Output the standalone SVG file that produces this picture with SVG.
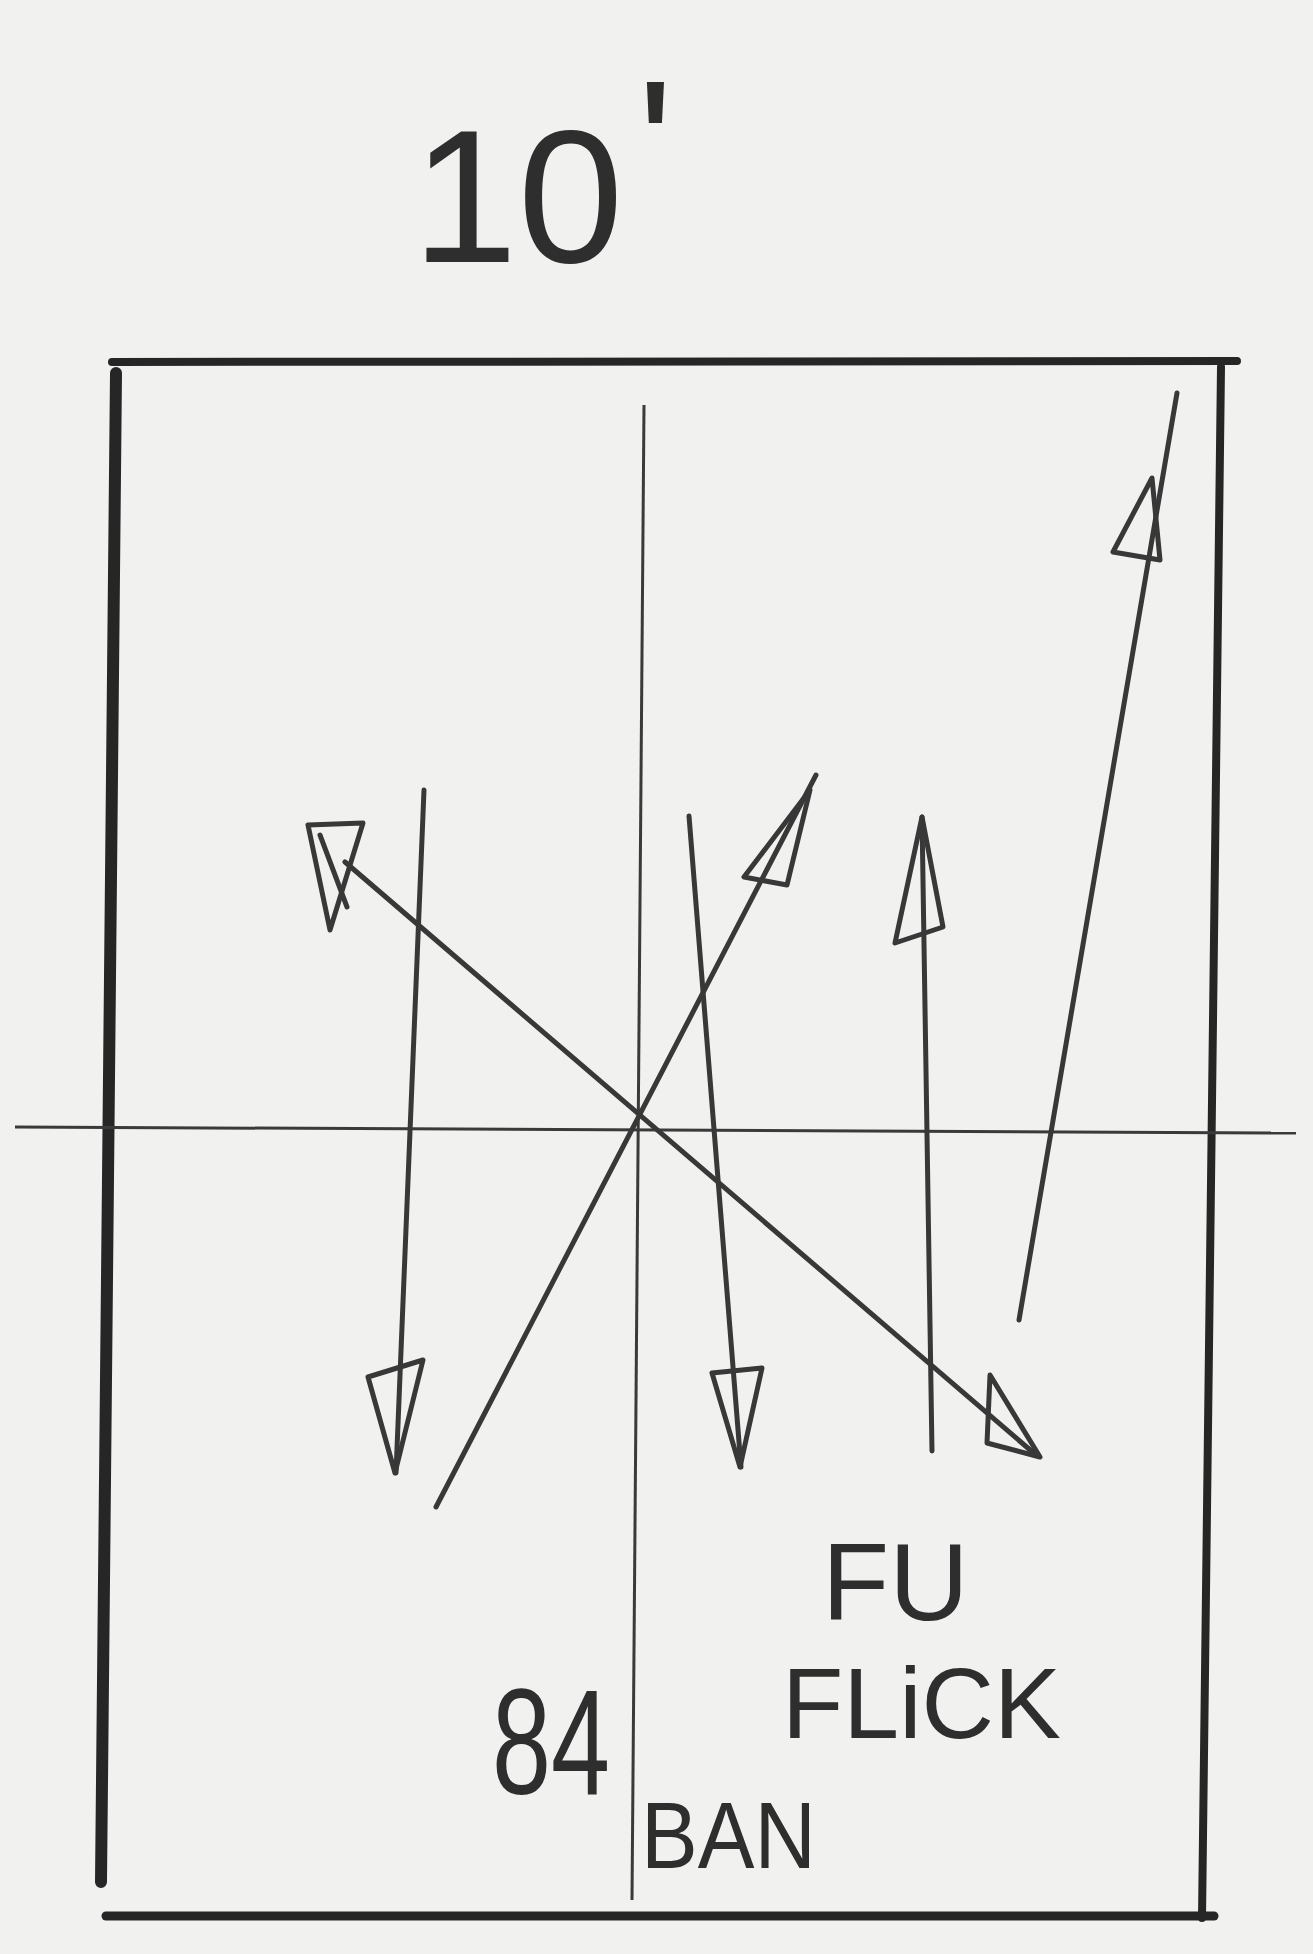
<svg xmlns="http://www.w3.org/2000/svg" width="1313" height="1954" viewBox="0 0 1313 1954">
<style>
.frame{stroke:#262626;fill:none;stroke-linecap:round}
.axis{stroke:#3a3a3a;stroke-width:3;fill:none}
.arr{stroke:#383838;stroke-width:5;fill:none;stroke-linecap:round;stroke-linejoin:round}
.hand{font-family:"Liberation Sans","DejaVu Sans",sans-serif;fill:#2e2e2e}
</style>
<rect x="0" y="0" width="1313" height="1954" fill="#f1f1ef"/>
<g id="title">
<text class="hand" x="412" y="262" font-size="190">10<tspan dx="14" dy="-50">'</tspan></text>
</g>
<g id="field">
<line class="frame" stroke-width="8" x1="112" y1="362" x2="1237" y2="361"/>
<line class="frame" stroke-width="12" x1="116" y1="373" x2="101" y2="1882"/>
<line class="frame" stroke-width="8" x1="1221" y1="367" x2="1202" y2="1918"/>
<line class="frame" stroke-width="9" x1="106" y1="1916" x2="1214" y2="1916"/>
<line class="axis" x1="644" y1="405" x2="632" y2="1900"/>
<line class="axis" x1="15" y1="1127" x2="1296" y2="1133"/>
</g>
<g id="connectors">
<g id="a1">
<line class="arr" x1="345" y1="862" x2="1036" y2="1455"/>
<polygon class="arr" points="308,825 363,823 330,930"/>
<line class="arr" x1="320" y1="835" x2="347" y2="907"/>
<polygon class="arr" points="990,1375 1040,1457 987,1443"/>
</g>
<g id="a2">
<line class="arr" x1="424" y1="790" x2="396" y2="1473"/>
<polygon class="arr" points="368,1377 423,1360 395,1473"/>
</g>
<g id="a3">
<line class="arr" x1="436" y1="1507" x2="816" y2="775"/>
<polygon class="arr" points="810,790 744,877 787,885"/>
</g>
<g id="a4">
<line class="arr" x1="689" y1="816" x2="741" y2="1467"/>
<polygon class="arr" points="712,1373 762,1368 740,1467"/>
</g>
<g id="a5">
<line class="arr" x1="932" y1="1451" x2="922" y2="817"/>
<polygon class="arr" points="922,817 895,943 943,927"/>
</g>
<g id="a6">
<line class="arr" x1="1019" y1="1320" x2="1177" y2="393"/>
<polygon class="arr" points="1152,478 1113,552 1160,560"/>
</g>
</g>
<g id="label-fu"><text class="hand" x="822" y="1620" font-size="110">FU</text></g>
<g id="label-flick"><text class="hand" x="782" y="1738" font-size="100" textLength="279" lengthAdjust="spacingAndGlyphs">FLiCK</text></g>
<g id="label-84"><text class="hand" x="492" y="1794" font-size="150" textLength="118" lengthAdjust="spacingAndGlyphs">84</text></g>
<g id="label-ban"><text class="hand" x="641" y="1868" font-size="95" textLength="175" lengthAdjust="spacingAndGlyphs">BAN</text></g>
</svg>
